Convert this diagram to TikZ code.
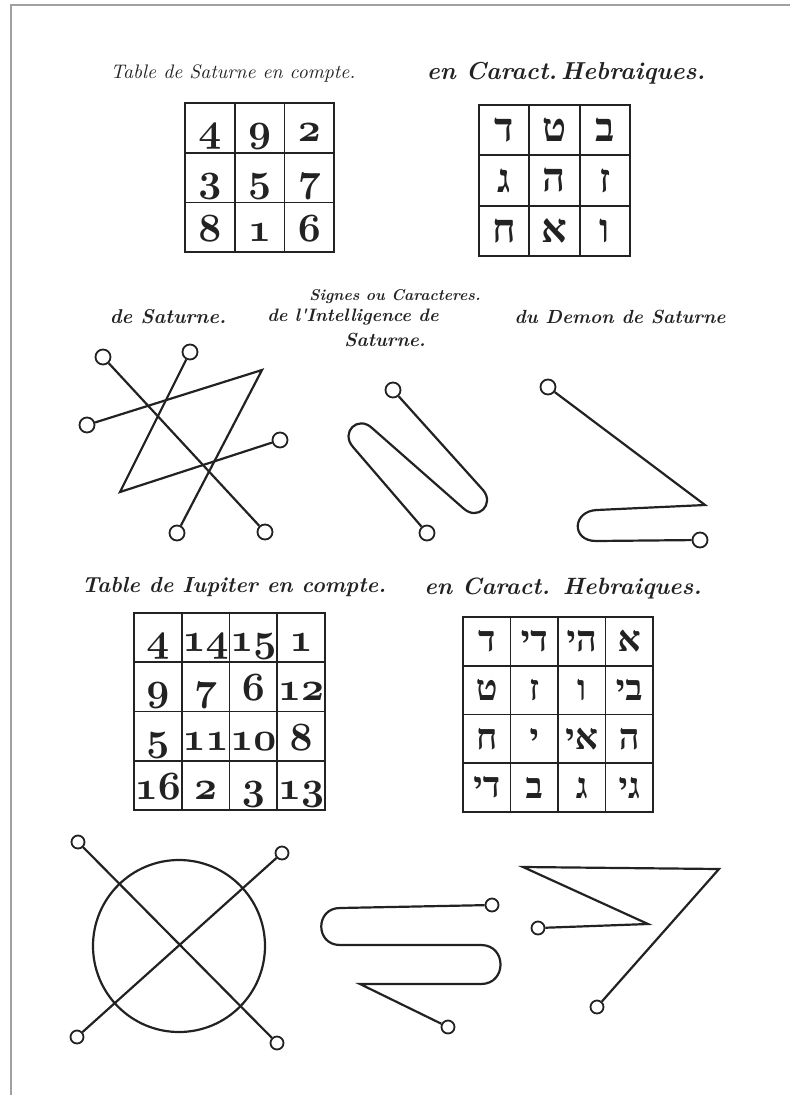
\documentclass[tikz,border=0pt]{standalone}
\usepackage{graphicx}
\usepackage{fontspec}
\newfontfamily\handfont{lmroman10-italic.otf}
\newfontfamily\boldhand{lmroman10-bolditalic.otf}
\newfontfamily\hebfont{Liberation Serif}[Script=Hebrew]
\newcommand{\oldnum}[1]{\scalebox{4}{\boldmath$\mathnormal{#1}$}}
\newcommand{\hebpair}[2]{\hbox{#1}\hbox{#2}}
\definecolor{Ink}{HTML}{222222}
\definecolor{Frame}{HTML}{A0A0A0}
\tikzset{
  heading/.style={font=\handfont\fontsize{#1}{#1}\selectfont,text=Ink,inner sep=0pt},
  boldheading/.style={font=\boldhand\fontsize{#1}{#1}\selectfont,text=Ink,inner sep=0pt},
  gridline/.style={draw=Ink,line width=1.8pt},
  numcell/.style={text=Ink,inner sep=0pt,anchor=base},
  hebcell/.style={font=\hebfont\bfseries\fontsize{#1}{#1}\selectfont,text=Ink,inner sep=0pt},
  ring/.style={circle,draw=Ink,line width=1.8pt,minimum size=15pt,inner sep=0pt},
  smallring/.style={ring,minimum size=13pt},
  sigil/.style={draw=Ink,line width=2.2pt,line join=miter},
}

\begin{document}
\begin{tikzpicture}[x=1pt,y=-1pt]
  \useasboundingbox (0,0) rectangle (790,1095);
  \draw[draw=Frame,line width=2pt] (11,1095) -- (11,5) -- (790,5);

  % titres
  \node[heading=19.6] (t1) at (233,73) {Table de Saturne en compte.};
  \node[boldheading=24.5] (t2) at (566,73) {en Caract.\,Hebraiques.};
  \node[boldheading=15.6] (t3) at (395,297) {Signes ou Caracteres.};
  \node[boldheading=20] (t4) at (168,317) {de Saturne.};
  \node[boldheading=18] (t5) at (353,317) {de l'Intelligence de};
  \node[boldheading=19] (t6) at (385,340) {Saturne.};
  \node[boldheading=19] (t7) at (620,317) {du Demon de Saturne};
  \node[boldheading=21.8] (t8) at (234,587) {Table de Iupiter en compte.};
  \node[boldheading=23.6] (t9) at (563,588) {en Caract. Hebraiques.};

  % Saturne en compte
  \draw[gridline] (185,103) rectangle (334,252);
  \foreach \i in {1,2} {
    \draw[gridline] ({185+49.7*\i},103) -- ({185+49.7*\i},252);
    \draw[gridline] (185,{103+49.7*\i}) -- (334,{103+49.7*\i});
  }
  \foreach \d [count=\n from 0] in {4,9,2,3,5,7,8,1,6}
    \node[numcell] (sn\n) at ({185+49.7*(mod(\n,3)+.5)},{103+49.7*(int(\n/3)+.5)+14}) {\oldnum{\d}};

  % Saturne en hebreu
  \draw[gridline] (479,105) rectangle (630,256);
  \foreach \i in {1,2} {
    \draw[gridline] ({479+50.3*\i},105) -- ({479+50.3*\i},256);
    \draw[gridline] (479,{105+50.3*\i}) -- (630,{105+50.3*\i});
  }
  \foreach \h [count=\n from 0] in {ד,ט,ב,ג,ה,ז,ח,א,ו}
    \node[hebcell=40] (sh\n) at ({479+50.3*(mod(\n,3)+.5)},{105+50.3*(int(\n/3)+.5)}) {\h};

  % sceau de Saturne
  \node[ring] (sa1) at (103,357) {};
  \node[ring] (sa2) at (190,352) {};
  \node[ring] (sa3) at (87,425) {};
  \node[ring] (sa4) at (280,440) {};
  \node[ring] (sa5) at (177,533) {};
  \node[ring] (sa6) at (265,532) {};
  \coordinate (saA) at (262,370);
  \coordinate (saB) at (120,492);
  \draw[sigil] (sa1) -- (sa6);
  \draw[sigil] (sa3) -- (saA) -- (sa5);
  \draw[sigil] (sa2) -- (saB) -- (sa4);

  % intelligence de Saturne
  \node[ring] (si1) at (393,390) {};
  \node[ring] (si2) at (427,533) {};
  \draw[sigil] (si1) -- (483,490) .. controls (495,504) and (478,522) .. (463,508)
    -- (372,428) .. controls (358,415) and (340,432) .. (353,447) -- (si2);

  % demon de Saturne
  \node[ring] (sd1) at (548,387) {};
  \node[ring] (sd2) at (700,540) {};
  \draw[sigil] (sd1) -- (705,505) -- (597,510) .. controls (572,511) and (571,541) .. (596,541) -- (sd2);

  % Iupiter en compte
  \draw[gridline] (134,613) rectangle (325,810);
  \foreach \i in {1,2,3} {
    \draw[gridline] ({134+47.75*\i},613) -- ({134+47.75*\i},810);
    \draw[gridline] (134,{613+49.25*\i}) -- (325,{613+49.25*\i});
  }
  \foreach \d [count=\n from 0] in {4,14,15,1,9,7,6,12,5,11,10,8,16,2,3,13}
    \node[numcell] (jn\n) at ({134+47.75*(mod(\n,4)+.5)},{613+49.25*(int(\n/4)+.5)+14}) {\oldnum{\d}};

  % Iupiter en hebreu
  \draw[gridline] (463,617) rectangle (653,812);
  \foreach \i in {1,2,3} {
    \draw[gridline] ({463+47.5*\i},617) -- ({463+47.5*\i},812);
    \draw[gridline] (463,{617+48.75*\i}) -- (653,{617+48.75*\i});
  }
  \foreach \a/\b [count=\n from 0] in {ד/,י/ד,י/ה,א/,ט/,ז/,ו/,י/ב,ח/,י/,י/א,ה/,י/ד,ב/,ג/,י/ג}
    \node[hebcell=36] (jh\n) at ({463+47.5*(mod(\n,4)+.5)},{617+48.75*(int(\n/4)+.5)}) {\hebpair{\a}{\b}};

  % sceau de Iupiter
  \node[circle,draw=Ink,line width=2.2pt,minimum size=172pt,inner sep=0pt] (jc) at (179,946) {};
  \node[smallring] (ja1) at (78,842) {};
  \node[smallring] (ja2) at (282,853) {};
  \node[smallring] (ja3) at (77,1037) {};
  \node[smallring] (ja4) at (277,1043) {};
  \draw[sigil] (ja1) -- (ja4);
  \draw[sigil] (ja2) -- (ja3);

  % intelligence de Iupiter
  \node[smallring] (ji1) at (492,905) {};
  \node[smallring] (ji2) at (448,1027) {};
  \draw[sigil] (ji1) -- (340,908) .. controls (315,908) and (315,945) .. (340,945)
    -- (481,945) .. controls (507,945) and (507,984) .. (481,984) -- (360,984) -- (ji2);

  % demon de Iupiter
  \node[smallring] (jd1) at (538,928) {};
  \node[smallring] (jd2) at (597,1007) {};
  \draw[sigil] (jd1) -- (648,924) -- (523,867) -- (719,869) -- (jd2);
\end{tikzpicture}
\end{document}
